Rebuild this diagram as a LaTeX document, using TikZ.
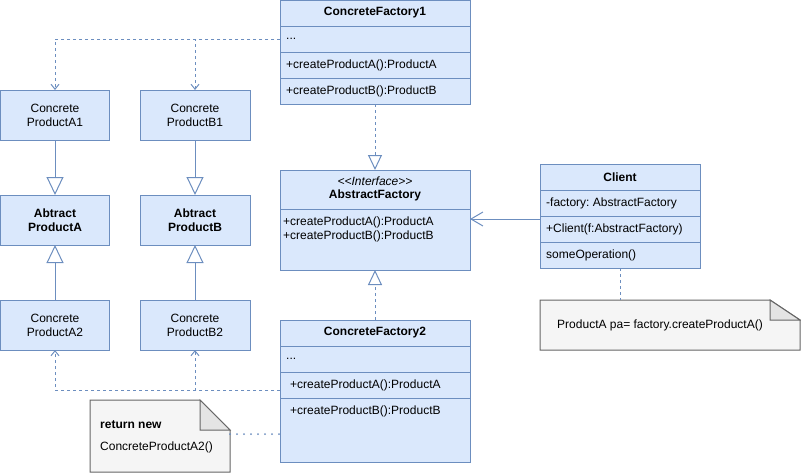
\documentclass[tikz,border=0pt]{standalone}
\usepackage{fontspec}
\setmainfont{Liberation Sans}
\usetikzlibrary{arrows.meta,calc}
\definecolor{fillblue}{HTML}{DAE8FC}
\definecolor{strokeblue}{HTML}{6C8EBF}
\definecolor{notefill}{HTML}{F5F5F5}
\definecolor{notefold}{HTML}{E4E4E4}
\definecolor{notestroke}{HTML}{666666}
\frenchspacing
\begin{document}
\begin{tikzpicture}[x=1pt,y=-1pt,
  box/.style={draw=strokeblue, fill=fillblue, line width=1pt, rectangle, inner sep=0pt, outer sep=0pt},
  sepline/.style={draw=strokeblue, line width=1pt},
  lbl/.style={font=\fontsize{12}{14}\selectfont, inner sep=0pt, text=black},
  blbl/.style={font=\fontsize{12}{14}\selectfont\bfseries, inner sep=0pt, text=black},
  prodtxt/.style={font=\fontsize{12}{14}\selectfont, align=center},
  absprodtxt/.style={font=\fontsize{12}{14}\selectfont\bfseries, align=center},
  notebody/.style={draw=notestroke, fill=notefill, line width=1pt, line join=miter},
  notefoldst/.style={draw=notestroke, fill=notefold, line width=1pt},
  gen/.style={draw=strokeblue, line width=1pt, -{Triangle[width=17pt,length=18pt,fill=white]}},
  realiz/.style={draw=strokeblue, line width=1pt, dash pattern=on 3pt off 3pt, -{Triangle[width=14pt,length=15pt,fill=white]}},
  dep/.style={draw=strokeblue, line width=1pt, dash pattern=on 3pt off 3pt, -{Straight Barb[length=5pt,width=8pt]}},
  assoc/.style={draw=strokeblue, line width=1pt, -{Straight Barb[length=12pt,width=14pt]}},
  notelink/.style={draw=strokeblue, line width=1pt, dash pattern=on 3pt off 3pt},
  dotlink/.style={draw=strokeblue, line width=2pt, line cap=round, dash pattern=on 0pt off 7pt}
]
\useasboundingbox (0,0) rectangle (801,474);

% ---------- product boxes ----------
\node[box, minimum width=109pt, minimum height=50pt, prodtxt] (a1) at (55,115) {Concrete\\ProductA1};
\node[box, minimum width=110pt, minimum height=50pt, prodtxt] (b1) at (195,115) {Concrete\\ProductB1};
\node[box, minimum width=109pt, minimum height=50pt, absprodtxt] (absa) at (55,220) {Abtract\\ProductA};
\node[box, minimum width=110pt, minimum height=50pt, absprodtxt] (absb) at (195,220) {Abtract\\ProductB};
\node[box, minimum width=109pt, minimum height=50pt, prodtxt] (a2) at (55,325) {Concrete\\ProductA2};
\node[box, minimum width=110pt, minimum height=50pt, prodtxt] (b2) at (195,325) {Concrete\\ProductB2};

% ---------- ConcreteFactory1 ----------
\node[box, minimum width=190pt, minimum height=104pt] (cf1) at (375,52) {};
\draw[sepline] (cf1.west |- 0,26) -- (cf1.east |- 0,26);
\draw[sepline] (cf1.west |- 0,52) -- (cf1.east |- 0,52);
\draw[sepline] (cf1.west |- 0,78) -- (cf1.east |- 0,78);
\node[blbl] (cf1t) at (375,13) {ConcreteFactory1};
\node[lbl, anchor=west] (cf1r1) at (286,39) {...};
\node[lbl, anchor=west] (cf1r2) at (286,65) {+createProductA():ProductA};
\node[lbl, anchor=west] (cf1r3) at (286,91) {+createProductB():ProductB};

% ---------- AbstractFactory ----------
\node[box, minimum width=190pt, minimum height=100pt] (af) at (375,220) {};
\draw[sepline] (af.west |- 0,209) -- (af.east |- 0,209);
\node[lbl, font=\fontsize{12}{14}\selectfont\itshape] (afs) at (375,181) {\textless\kern0pt\textless Interface\textgreater\kern0pt\textgreater};
\node[blbl] (aft) at (375,195) {AbstractFactory};
\node[lbl, anchor=west] (afr1) at (283,222) {+createProductA():ProductA};
\node[lbl, anchor=west] (afr2) at (283,236) {+createProductB():ProductB};

% ---------- Client ----------
\node[box, minimum width=160pt, minimum height=104pt] (client) at (620,216) {};
\draw[sepline] (client.west |- 0,190) -- (client.east |- 0,190);
\draw[sepline] (client.west |- 0,216) -- (client.east |- 0,216);
\draw[sepline] (client.west |- 0,242) -- (client.east |- 0,242);
\node[blbl] (clt) at (620,177) {Client};
\node[lbl, anchor=west] (clr1) at (546,203) {-factory: AbstractFactory};
\node[lbl, anchor=west] (clr2) at (546,229) {+Client(f:AbstractFactory)};
\node[lbl, anchor=west] (clr3) at (546,255) {someOperation()};

% ---------- ConcreteFactory2 ----------
\node[box, minimum width=190pt, minimum height=142pt] (cf2) at (375,391) {};
\draw[sepline] (cf2.west |- 0,346) -- (cf2.east |- 0,346);
\draw[sepline] (cf2.west |- 0,372) -- (cf2.east |- 0,372);
\draw[sepline] (cf2.west |- 0,398) -- (cf2.east |- 0,398);
\node[blbl] (cf2t) at (375,333) {ConcreteFactory2};
\node[lbl, anchor=west] (cf2r1) at (286,359) {...};
\node[lbl, anchor=west] (cf2r2) at (290,385) {+createProductA():ProductA};
\node[lbl, anchor=west] (cf2r3) at (290,411) {+createProductB():ProductB};

% ---------- note for client ----------
\node[inner sep=0pt, outer sep=0pt, minimum width=260pt, minimum height=50pt] (note1) at (670,325) {};
\draw[notebody] (note1.north west) -- (770,300) -- (800,320) -- (note1.south east) -- (note1.south west) -- cycle;
\draw[notefoldst] (770,300) -- (770,320) -- (800,320) -- cycle;
\node[lbl] (note1t) at (660,325) {ProductA pa= factory.createProductA()};

% ---------- note for ConcreteFactory2 ----------
\node[inner sep=0pt, outer sep=0pt, minimum width=140pt, minimum height=72pt] (note2) at (160,436) {};
\draw[notebody] (note2.north west) -- (200,400) -- (230,430) -- (note2.south east) -- (note2.south west) -- cycle;
\draw[notefoldst] (200,400) -- (200,430) -- (230,430) -- cycle;
\node[blbl, anchor=west] (note2a) at (100,425) {return new};
\node[lbl, anchor=west] (note2b) at (100,447) {ConcreteProductA2()};

% ---------- connectors ----------
\draw[gen] (a1.south) -- (absa.north);
\draw[gen] (a2.north) -- (absa.south);
\draw[gen] (b1.south) -- (absb.north);
\draw[gen] (b2.north) -- (absb.south);

\draw[realiz] (cf1.south) -- (af.north);
\draw[realiz] (cf2.north) -- (af.south);

\draw[dep] (cf1.west |- cf1r1) -| (a1.north);
\draw[dep] (cf1.west |- cf1r1) -| (b1.north);

\coordinate (cf2out) at (cf2.west |- 0,390);
\draw[dep] (cf2out) -| (a2.south);
\draw[dep] (cf2out) -| (b2.south);

\coordinate (clout) at (client.west |- 0,219);
\draw[assoc] (clout) -- (clout -| af.east);

\draw[notelink] (client.south) -- (client.south |- note1.north);

\coordinate (n2out) at (note2.east |- 0,434);
\draw[dotlink] (n2out) -- (n2out -| cf2.west);
\end{tikzpicture}
\end{document}
